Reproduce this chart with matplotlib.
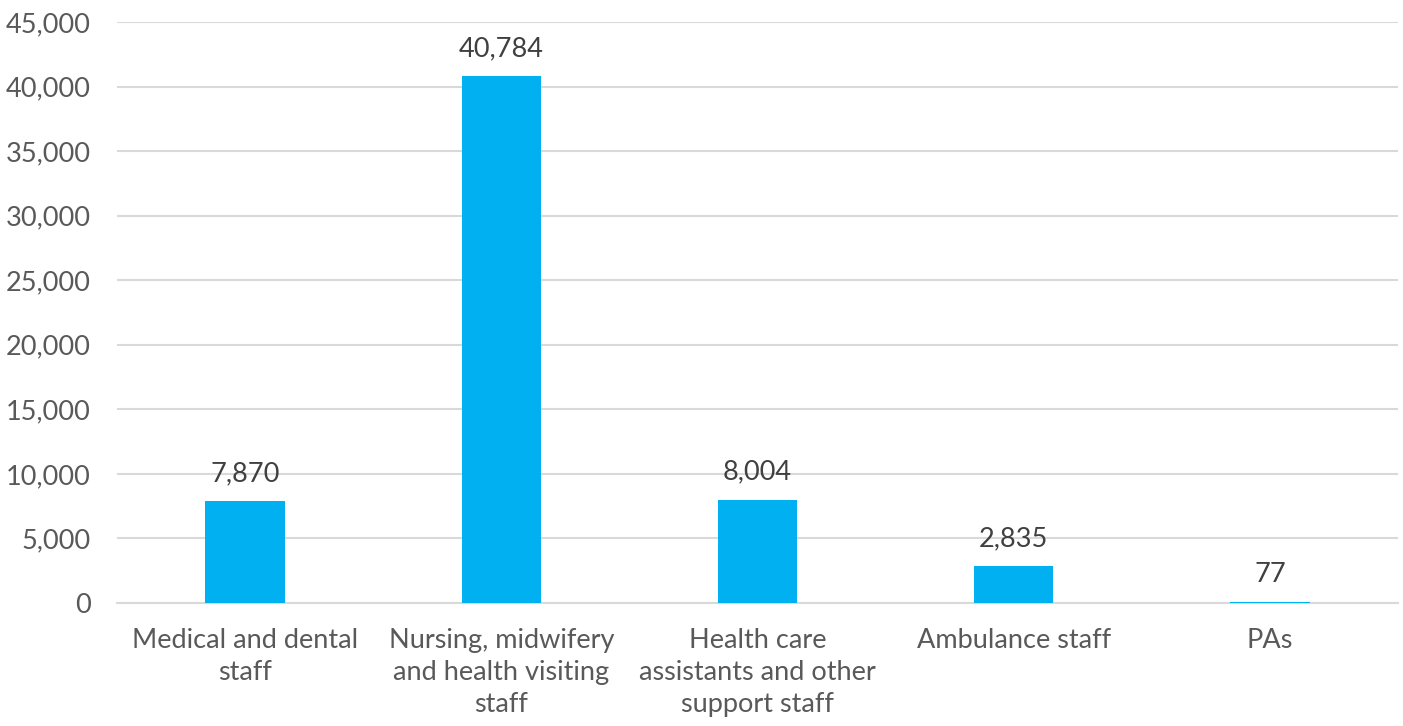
import matplotlib.pyplot as plt
from matplotlib.ticker import FuncFormatter

categories = ["Medical and dental\nstaff",
              "Nursing, midwifery\nand health visiting\nstaff",
              "Health care\nassistants and other\nsupport staff",
              "Ambulance staff",
              "PAs"]
values = [7870, 40784, 8004, 2835, 77]
yticks = [0, 5000, 10000, 15000, 20000, 25000, 30000, 35000, 40000, 45000]

plt.rcParams['font.family'] = ['Lato', 'DejaVu Sans']

fig = plt.figure(figsize=(14.03, 7.26), dpi=100)
ax = fig.add_axes([117 / 1403, 1 - 603 / 726, (1398 - 117) / 1403, (603 - 22) / 726])

x = range(len(values))
bars = ax.bar(x, values, width=0.31, color='#00B0F0', zorder=3)

for b, v in zip(bars, values):
    ax.annotate(f"{v:,}", (b.get_x() + b.get_width() / 2, v),
                xytext=(0, 15), textcoords='offset pixels',
                ha='center', va='bottom', fontsize=19.5, color='#404040')

ax.set_xlim(-0.5, len(values) - 0.5)
ax.set_ylim(0, 45000)
ax.set_yticks(yticks)
ax.yaxis.set_major_formatter(FuncFormatter(lambda v, p: f"{int(v):,}"))
ax.set_xticks(list(x))
ax.set_xticklabels(categories, linespacing=1.35)

ax.grid(axis='y', color='#D9D9D9', linewidth=1.5, zorder=0)
for s in ['top', 'right', 'left']:
    ax.spines[s].set_visible(False)
ax.spines['bottom'].set_color('#D9D9D9')
ax.spines['bottom'].set_linewidth(1.5)

ax.tick_params(axis='y', length=0, pad=19, labelsize=19.5, labelcolor='#595959')
ax.tick_params(axis='x', length=0, pad=18, labelsize=19.5, labelcolor='#595959')

fig.savefig('out.png', dpi=100)
